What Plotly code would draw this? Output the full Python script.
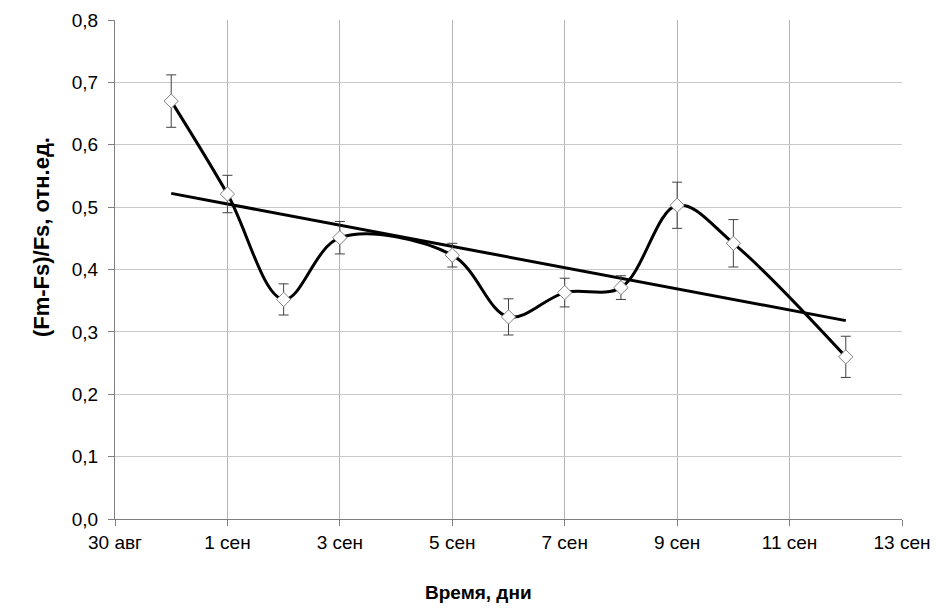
import plotly.graph_objects as go

dates = ["2012-08-31", "2012-09-01", "2012-09-02", "2012-09-03", "2012-09-05",
         "2012-09-06", "2012-09-07", "2012-09-08", "2012-09-09", "2012-09-10",
         "2012-09-12"]
values = [0.670, 0.521, 0.352, 0.451, 0.423, 0.324, 0.363, 0.371, 0.503, 0.442, 0.260]
errors = [0.042, 0.030, 0.025, 0.026, 0.019, 0.029, 0.023, 0.019, 0.037, 0.038, 0.033]

trend_dates = ["2012-08-31", "2012-09-12"]
trend_values = [0.522, 0.318]

tick_dates = ["2012-08-30", "2012-09-01", "2012-09-03", "2012-09-05", "2012-09-07",
              "2012-09-09", "2012-09-11", "2012-09-13"]
tick_labels = ["30 авг", "1 сен", "3 сен", "5 сен", "7 сен", "9 сен", "11 сен", "13 сен"]

x_title = "Время, дни"
y_title = "(Fm-Fs)/Fs, отн.ед."

FONT = "Liberation Sans, Arial, sans-serif"

fig = go.Figure()

fig.add_trace(go.Scatter(
    x=dates, y=values, mode="lines",
    line=dict(color="black", width=3, shape="spline", smoothing=1.0),
    hoverinfo="skip", showlegend=False,
))

fig.add_trace(go.Scatter(
    x=trend_dates, y=trend_values, mode="lines",
    line=dict(color="black", width=3),
    hoverinfo="skip", showlegend=False,
))

fig.add_trace(go.Scatter(
    x=dates, y=values, mode="markers",
    marker=dict(symbol="diamond", size=11, color="white",
                line=dict(color="#7f7f7f", width=1)),
    error_y=dict(type="data", array=errors, visible=True,
                 color="#404040", thickness=1, width=5),
    showlegend=False,
))

fig.update_layout(
    width=936, height=614,
    margin=dict(l=115, r=34, t=20, b=95, autoexpand=False),
    paper_bgcolor="white", plot_bgcolor="white",
    separators=", ",
    font=dict(family=FONT, size=19, color="black"),
    showlegend=False,
    annotations=[
        dict(text="<b>" + x_title + "</b>", xref="paper", yref="paper",
             x=0.4625, y=-0.1463, xanchor="center", yanchor="middle",
             showarrow=False, font=dict(family=FONT, size=19, color="black")),
        dict(text="<b>" + y_title + "</b>", xref="paper", yref="paper",
             x=-0.094, y=0.565, xanchor="center", yanchor="middle", textangle=-90,
             showarrow=False, font=dict(family=FONT, size=22, color="black")),
    ],
)

fig.update_xaxes(
    type="date",
    range=["2012-08-30", "2012-09-13"],
    tickvals=tick_dates, ticktext=tick_labels,
    showgrid=True, gridcolor="#b3b3b3", gridwidth=1,
    showline=True, linecolor="#7f7f7f", linewidth=1,
    ticks="outside", ticklen=6, tickcolor="#7f7f7f",
    tickfont=dict(family=FONT, size=19, color="black"),
    automargin=False,
    zeroline=False,
)

fig.update_yaxes(
    range=[0, 0.8], dtick=0.1, tick0=0, tickformat=".1f",
    showgrid=True, gridcolor="#c8c8c8", gridwidth=1,
    showline=True, linecolor="#7f7f7f", linewidth=1,
    ticks="outside", ticklen=6, tickcolor="#7f7f7f",
    tickfont=dict(family=FONT, size=19, color="black"),
    ticklabelstandoff=6,
    automargin=False,
    zeroline=False,
)

fig.write_html(
    "out.html",
    config={"displayModeBar": False, "staticPlot": True},
    post_script="document.body.style.margin='0';document.body.style.overflow='hidden';",
)
